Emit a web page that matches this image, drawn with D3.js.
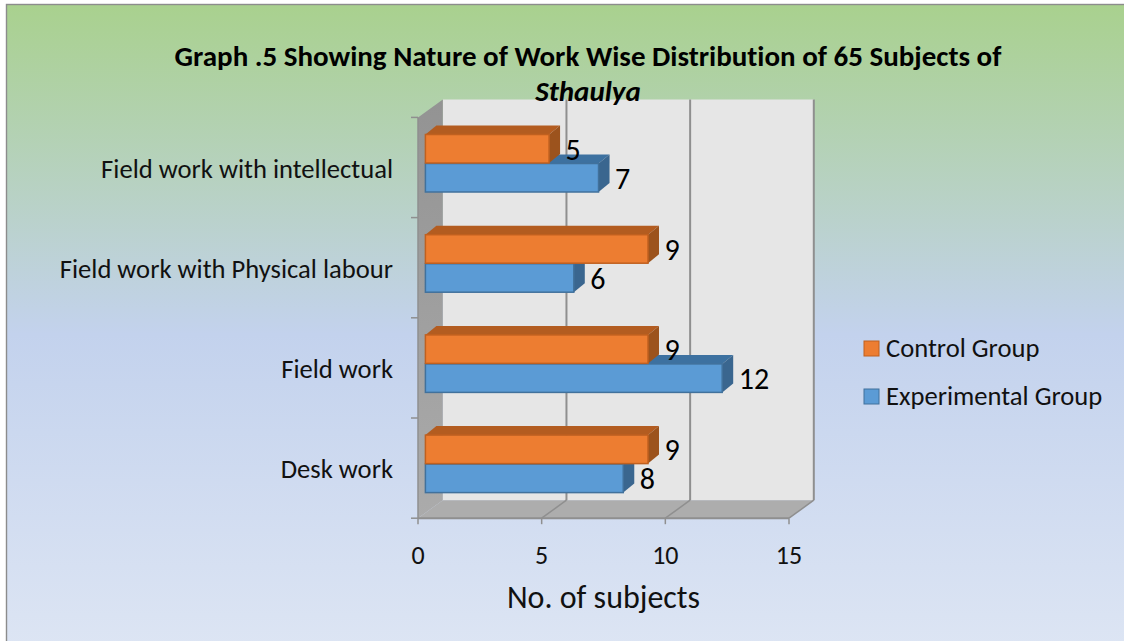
<!DOCTYPE html>
<html><head><meta charset="utf-8">
<script src="https://cdnjs.cloudflare.com/ajax/libs/d3/7.8.5/d3.min.js"></script>
<style>html,body{margin:0;padding:0;background:#fff;overflow:hidden}svg{display:block}text{font-family:Carlito,"Open Sans","Noto Sans",sans-serif;font-variant-ligatures:none}</style>
</head><body><div id="c"></div>
<script>
const categories = ["Field work with intellectual","Field work with Physical labour","Field work","Desk work"];
const seriesNames = ["Control Group","Experimental Group"];
const controlValues = [5,9,9,9];
const experimentalValues = [7,6,12,8];
const xTicks = [0,5,10,15];
const titleLines = ["Graph .5 Showing Nature of Work Wise Distribution of 65 Subjects of","Sthaulya"];
const axisTitle = "No. of subjects";

const W=1124,H=641;
const svg=d3.select("#c").append("svg").attr("width",W).attr("height",H);
const defs=svg.append("defs");
const bg=defs.append("linearGradient").attr("id","bg").attr("x1",0).attr("y1",0).attr("x2",0).attr("y2",1);
[[0,"#a9d18e"],[0.5,"#c3d2ed"],[1,"#dee6f4"]].forEach(s=>bg.append("stop").attr("offset",s[0]).attr("stop-color",s[1]));
const wall=defs.append("linearGradient").attr("id","wall").attr("x1",0).attr("y1",0).attr("x2",0).attr("y2",1);
[[0,"#939393"],[1,"#ababab"]].forEach(s=>wall.append("stop").attr("offset",s[0]).attr("stop-color",s[1]));

svg.append("rect").attr("x",6.5).attr("y",4.5).attr("width",1140).attr("height",660)
  .attr("fill","url(#bg)").attr("stroke","#8c8c8c").attr("stroke-width",1.4);

const x0=418,xEnd=789,yTop=117.4,yBot=518.2,dx=24.8,dy=-18;
const x=d3.scaleLinear().domain([0,15]).range([x0,xEnd]);
const y=d3.scaleBand().domain(categories).range([yTop,yBot]);
const poly=p=>p.map(a=>a.join(",")).join(" ");
const g=svg.append("g");

g.append("polygon").attr("points",poly([[x0+dx,yTop+dy],[xEnd+dx,yTop+dy],[xEnd+dx,yBot+dy],[x0+dx,yBot+dy]])).attr("fill","#e6e6e6");
g.append("polygon").attr("points",poly([[x0,yTop],[x0+dx,yTop+dy],[x0+dx,yBot+dy],[x0,yBot]])).attr("fill","url(#wall)");
g.append("polygon").attr("points",poly([[x0,yBot],[x0+dx,yBot+dy],[xEnd+dx,yBot+dy],[xEnd,yBot]])).attr("fill","#adadad");

const gridColor="#8f8f8f";
xTicks.forEach(t=>{
  if(t>0){
    g.append("line").attr("x1",x(t)+dx).attr("x2",x(t)+dx).attr("y1",yTop+dy).attr("y2",yBot+dy).attr("stroke",gridColor).attr("stroke-width",2);
    g.append("line").attr("x1",x(t)).attr("x2",x(t)+dx).attr("y1",yBot).attr("y2",yBot+dy).attr("stroke",gridColor).attr("stroke-width",1.5);
  }
  g.append("line").attr("x1",x(t)).attr("x2",x(t)).attr("y1",yBot).attr("y2",yBot+6).attr("stroke",gridColor).attr("stroke-width",1.5);
  g.append("text").attr("x",x(t)).attr("y",563.5).attr("text-anchor","middle").attr("font-size",26).attr("fill","#111").text(t);
});
g.append("line").attr("x1",x0).attr("x2",xEnd).attr("y1",yBot).attr("y2",yBot).attr("stroke",gridColor).attr("stroke-width",2);
g.append("line").attr("x1",x0).attr("x2",x0).attr("y1",yTop).attr("y2",yBot).attr("stroke",gridColor).attr("stroke-width",1.5);
y.domain().concat(["end"]).forEach((c,i)=>{
  const yy=yTop+i*y.step();
  g.append("line").attr("x1",x0-7).attr("x2",x0).attr("y1",yy).attr("y2",yy).attr("stroke",gridColor).attr("stroke-width",1.5);
});

const barH=28.5, sdx=11, sdy=-9, barX0=7.4;
const rowOffset=-4.5;
const series=[
 {vals:experimentalValues,front:"#5b9bd5",top:"#3d71a0",side:"#3a668f",edge:"#41719c",pos:0},
 {vals:controlValues,front:"#ed7d31",top:"#b35c20",side:"#9c531d",edge:"#c0601f",pos:-1}
];
categories.forEach((c,i)=>{
  series.forEach(s=>{
    const yy=y(c)+y.bandwidth()/2+rowOffset+s.pos*barH+(s.pos===0?0.5:0);
    const xl=x(0)+barX0, xr=x(s.vals[i])+barX0;
    const b=g.append("g");
    b.append("polygon").attr("points",poly([[xl,yy],[xl+sdx,yy+sdy],[xr+sdx,yy+sdy],[xr,yy]])).attr("fill",s.top);
    b.append("polygon").attr("points",poly([[xr,yy],[xr+sdx,yy+sdy],[xr+sdx,yy+barH+sdy],[xr,yy+barH]])).attr("fill",s.side);
    b.append("rect").attr("x",xl).attr("y",yy).attr("width",xr-xl).attr("height",barH).attr("fill",s.front).attr("stroke",s.edge).attr("stroke-width",1.5);
  });
});
categories.forEach((c,i)=>{
  series.forEach(s=>{
    const yy=y(c)+y.bandwidth()/2+rowOffset+s.pos*barH+(s.pos===0?0.5:0);
    const xr=x(s.vals[i])+barX0;
    g.append("text").attr("x",xr+sdx+5.5).attr("y",yy+barH-3.5).attr("font-size",30).attr("fill","#000").text(s.vals[i]);
  });
});

categories.forEach(c=>{
  g.append("text").attr("x",393).attr("y",y(c)+y.bandwidth()/2+10).attr("text-anchor","end").attr("font-size",26.6).attr("fill","#111").text(c);
});

titleLines.forEach((t,i)=>{
  svg.append("text").attr("x",588).attr("y",65.5+i*35).attr("text-anchor","middle").attr("font-size",29).attr("font-weight","bold")
    .attr("font-style",i===1?"italic":"normal").attr("fill","#000").text(t);
});
svg.append("text").attr("x",603.5).attr("y",608).attr("text-anchor","middle").attr("font-size",32).attr("fill","#111").text(axisTitle);

const legendY=[348,396];
seriesNames.forEach((n,i)=>{
  const s=i===0?series[1]:series[0];
  svg.append("rect").attr("x",864).attr("y",legendY[i]-7).attr("width",15).attr("height",15).attr("fill",s.front).attr("stroke",s.edge).attr("stroke-width",1);
  svg.append("text").attr("x",886).attr("y",legendY[i]+9).attr("font-size",26.6).attr("fill","#111").text(n);
});
</script></body></html>
